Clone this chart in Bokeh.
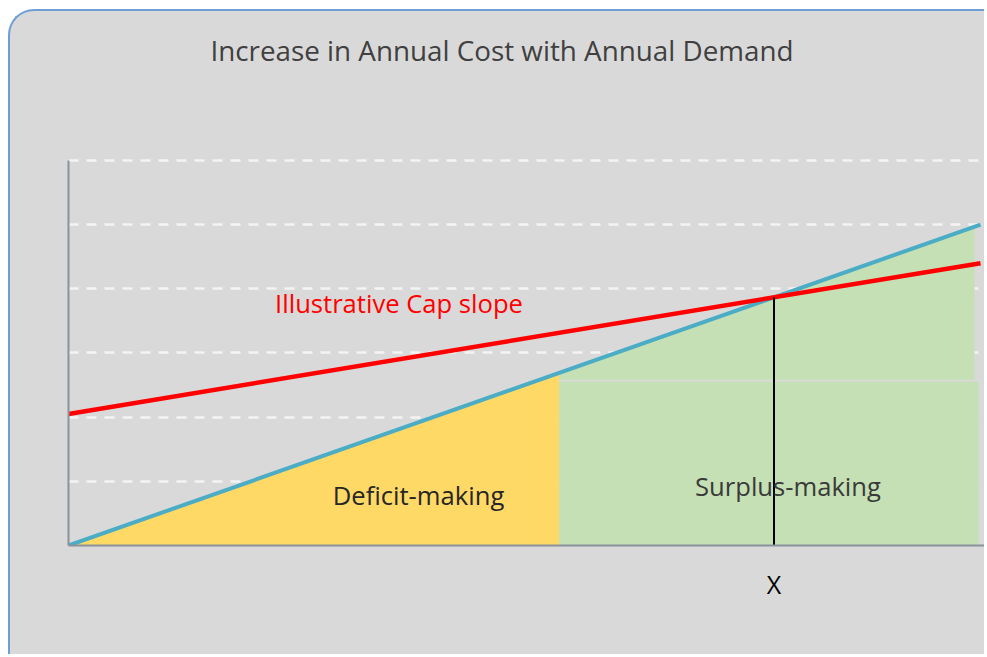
from bokeh.plotting import figure
from bokeh.models import FixedTicker, Label
from bokeh.embed import file_html
from bokeh.resources import INLINE

# ---- data (abstract units: demand 0..100, cost 0..6) ----
demand = [0, 100]
cost_line = [0.0, 5.0]          # annual cost (blue)
cap_line = [2.05, 4.40]         # illustrative cap (red)
grid_levels = [0, 1, 2, 3, 4, 5, 6]
deficit_end = 53.8              # demand where deficit region ends
surplus_end = 99.8              # right end of surplus band
surplus_upper_end = 99.35       # right end of upper surplus wedge
band_top = 2.55                 # top of lower surplus band
wedge_bottom = 2.585            # bottom of upper surplus wedge


def interp(x, xs, ys):
    return ys[0] + (ys[1] - ys[0]) * (x - xs[0]) / (xs[1] - xs[0])


# intersection of cost and cap lines
s_cost = (cost_line[1] - cost_line[0]) / (demand[1] - demand[0])
s_cap = (cap_line[1] - cap_line[0]) / (demand[1] - demand[0])
x_cross = round((cap_line[0] - cost_line[0]) / (s_cost - s_cap), 2)
y_cross = interp(x_cross, demand, cost_line)

PANEL = "#d9d9d9"
FONT = "Open Sans"

p = figure(width=976, height=645, output_backend="svg", toolbar_location=None,
           title=None,
           x_range=(0, 100.66), y_range=(0, 8.322),
           min_border_left=58, min_border_right=0, min_border_top=0,
           min_border_bottom=111,
           background_fill_color=None, border_fill_color=None,
           outline_line_color=None,
           styles={"margin-left": "8px", "margin-top": "9px",
                   "background-color": PANEL,
                   "border-top": "2px solid #6d9fd6",
                   "border-left": "2px solid #6d9fd6",
                   "border-top-left-radius": "26px",
                   "overflow": "hidden"})

# grid
p.xgrid.visible = False
p.ygrid.ticker = FixedTicker(ticks=grid_levels)
p.ygrid.bounds = (0, 99.4)
p.ygrid.grid_line_color = "#f4f4f4"
p.ygrid.grid_line_width = 2.5
p.ygrid.grid_line_dash = "10 8"

# axes
for ax in (p.xaxis[0], p.yaxis[0]):
    ax.axis_line_color = "#8a929c"
    ax.axis_line_width = 2
    ax.major_tick_line_color = None
    ax.minor_tick_line_color = None
    ax.major_tick_in = 0
    ax.major_tick_out = 0
    ax.minor_tick_in = 0
    ax.minor_tick_out = 0
p.yaxis.ticker = FixedTicker(ticks=[])
p.yaxis.major_label_text_font_size = "0px"
p.yaxis.bounds = (grid_levels[0], grid_levels[-1])
p.xaxis.bounds = (0, 100.4)
p.xaxis.ticker = FixedTicker(ticks=[x_cross])
p.xaxis.major_label_overrides = {x_cross: "X"}
p.xaxis.major_label_text_font = FONT
p.xaxis.major_label_text_font_size = "25px"
p.xaxis.major_label_text_color = "#000000"
p.xaxis.major_label_standoff = 21

# regions
y_def = interp(deficit_end, demand, cost_line)
p.patch([demand[0], deficit_end, deficit_end], [cost_line[0], cost_line[0], y_def],
        fill_color="#ffd966", line_color=None)
p.quad(left=[deficit_end], right=[surplus_end], bottom=[0], top=[band_top],
       fill_color="#c5e0b4", line_color=None)
y_up = interp(surplus_upper_end, demand, cost_line)
p.patch([deficit_end, deficit_end, surplus_upper_end, surplus_upper_end],
        [wedge_bottom, y_def, y_up, wedge_bottom],
        fill_color="#c5e0b4", line_color=None)

# lines
p.line(demand, cost_line, line_color="#4bacc6", line_width=4)
p.line(demand, cap_line, line_color="#ff0000", line_width=4.5)
p.segment(x0=[x_cross], y0=[0], x1=[x_cross], y1=[y_cross],
          line_color="#000000", line_width=2)

# title and labels
p.add_layout(Label(x=47.53, y=7.72, text="Increase in Annual Cost with Annual Demand",
                   text_align="center", text_baseline="alphabetic",
                   text_font=FONT, text_font_size="27.8px",
                   text_color="#404040"))
p.add_layout(Label(x=36.24, y=3.775, text="Illustrative Cap slope",
                   text_align="center", text_baseline="alphabetic",
                   text_font=FONT, text_font_size="25.6px",
                   text_color="#ff0000"))
p.add_layout(Label(x=38.38, y=0.78, text="Deficit-making",
                   text_align="center", text_baseline="alphabetic",
                   text_font=FONT, text_font_size="25.6px",
                   text_color="#262626"))
p.add_layout(Label(x=78.89, y=0.92, text="Surplus-making",
                   text_align="center", text_baseline="alphabetic",
                   text_font=FONT, text_font_size="25.6px",
                   text_color="#3a3a3a"))

open("out.html", "w").write(file_html(p, INLINE))
